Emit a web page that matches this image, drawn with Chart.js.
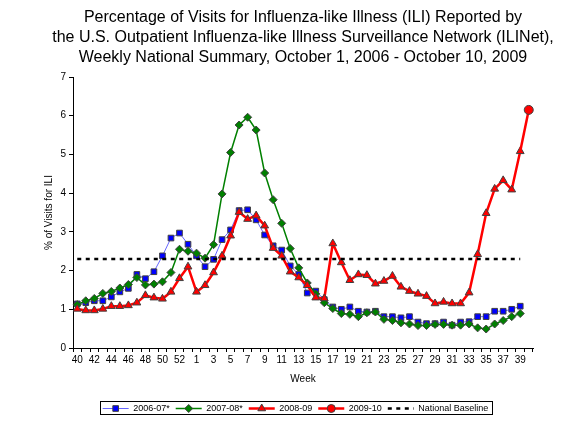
<!DOCTYPE html>
<html>
<head>
<meta charset="utf-8">
<title>ILINet weekly national summary</title>
<script src="https://cdn.jsdelivr.net/npm/chart.js@4/dist/chart.umd.min.js"></script>
<style>
  html, body { margin: 0; padding: 0; background: #fff; }
  #wrap { width: 563px; height: 423px; }
</style>
</head>
<body>
<div id="wrap"><canvas id="ili-chart" width="563" height="423"></canvas></div>
<script>
// week numbers along the x axis (season runs week 40 .. week 40 next year)
var weeks = [40, 41, 42, 43, 44, 45, 46, 47, 48, 49, 50, 51, 52, 53,
  1, 2, 3, 4, 5, 6, 7, 8, 9, 10, 11, 12, 13, 14, 15, 16, 17, 18, 19, 20,
  21, 22, 23, 24, 25, 26, 27, 28, 29, 30, 31, 32, 33, 34, 35, 36, 37, 38, 39, 40];

var yTicks = [0, 1, 2, 3, 4, 5, 6, 7];

var season0607 = [1.14, 1.17, 1.22, 1.22, 1.32, 1.45, 1.54, 1.90, 1.79, 1.97, 2.38, 2.84, 2.97, 2.68,
  2.38, 2.10, 2.29, 2.80, 3.05, 3.55, 3.57, 3.31, 2.92, 2.64, 2.53, 2.12, 1.90, 1.42, 1.47, 1.25,
  1.06, 1.00, 1.06, 0.95, 0.93, 0.95, 0.81, 0.81, 0.78, 0.81, 0.67, 0.63, 0.63, 0.67, 0.59, 0.67,
  0.68, 0.81, 0.81, 0.95, 0.95, 1.00, 1.08, null];

var season0708 = [1.12, 1.22, 1.28, 1.41, 1.46, 1.55, 1.64, 1.82, 1.63, 1.65, 1.71, 1.95, 2.55, 2.50,
  2.45, 2.32, 2.67, 3.98, 5.05, 5.76, 5.96, 5.63, 4.52, 3.83, 3.22, 2.57, 2.07, 1.68, 1.40, 1.17,
  1.02, 0.89, 0.87, 0.81, 0.91, 0.93, 0.74, 0.71, 0.65, 0.62, 0.58, 0.58, 0.61, 0.61, 0.59, 0.59,
  0.62, 0.52, 0.49, 0.62, 0.71, 0.81, 0.89, null];

var season0809 = [1.01, 0.97, 0.97, 1.01, 1.08, 1.08, 1.10, 1.17, 1.36, 1.30, 1.27, 1.45, 1.80, 2.10,
  1.45, 1.62, 1.95, 2.38, 2.90, 3.51, 3.33, 3.42, 3.16, 2.58, 2.38, 1.97, 1.82, 1.62, 1.30, 1.28,
  2.70, 2.21, 1.75, 1.90, 1.88, 1.66, 1.73, 1.86, 1.58, 1.47, 1.40, 1.34, 1.15, 1.19, 1.15, 1.15,
  1.43, 2.42, 3.48, 4.11, 4.33, 4.09, 5.08, null];

// 2009-10 so far: joined on from the last 2008-09 week
var season0910 = [null, null, null, null, null, null, null, null, null, null, null, null, null, null,
  null, null, null, null, null, null, null, null, null, null, null, null, null, null, null, null,
  null, null, null, null, null, null, null, null, null, null, null, null, null, null, null, null,
  null, null, null, null, null, null, 5.08, 6.15];

var baseline = [2.3, 2.3, 2.3, 2.3, 2.3, 2.3, 2.3, 2.3, 2.3, 2.3, 2.3, 2.3, 2.3, 2.3,
  2.3, 2.3, 2.3, 2.3, 2.3, 2.3, 2.3, 2.3, 2.3, 2.3, 2.3, 2.3, 2.3, 2.3, 2.3, 2.3,
  2.3, 2.3, 2.3, 2.3, 2.3, 2.3, 2.3, 2.3, 2.3, 2.3, 2.3, 2.3, 2.3, 2.3, 2.3, 2.3,
  2.3, 2.3, 2.3, 2.3, 2.3, 2.3, 2.3, null];

var FONT = "'Liberation Sans', Arial, sans-serif";
var MARK_EDGE = '#404040';

// title centred over the plot, legend nudged right like the original
var recentre = {
  id: 'recentre',
  afterLayout: function(chart) {
    var a = chart.chartArea;
    var t = chart.titleBlock;
    if (t) { t.left = a.left - 45; t.right = a.right + 45; }
    var lg = chart.legend;
    if (lg) { lg.left += 10; lg.right += 10; }
  }
};

// excel style legend: a short line with the marker on it, framed
var legendMarks = {
  id: 'legendMarks',
  afterDraw: function(chart) {
    var lg = chart.legend;
    if (!lg || !lg.legendHitBoxes) return;
    var ctx = chart.ctx;
    var boxW = lg.options.labels.boxWidth;
    var minL = 1e9, maxR = -1e9, minT = 1e9, maxB = -1e9;
    lg.legendHitBoxes.forEach(function(b, i) {
      var ds = chart.data.datasets[lg.legendItems[i].datasetIndex];
      var y = b.top + b.height / 2;
      ctx.save();
      ctx.strokeStyle = ds.borderColor;
      ctx.lineWidth = ds.borderWidth;
      ctx.setLineDash(ds.borderDash || []);
      ctx.beginPath();
      ctx.moveTo(b.left, y);
      ctx.lineTo(b.left + boxW, y);
      ctx.stroke();
      ctx.restore();
      if (ds.legendMark) {
        ctx.save();
        ctx.fillStyle = ds.pointBackgroundColor;
        ctx.strokeStyle = MARK_EDGE;
        ctx.lineWidth = 1;
        Chart.helpers.drawPoint(ctx, {pointStyle: ds.pointStyle, radius: ds.legendMark, borderWidth: 1, rotation: 0}, b.left + boxW / 2, y);
        ctx.restore();
      }
      minL = Math.min(minL, b.left);
      maxR = Math.max(maxR, b.left + b.width);
      minT = Math.min(minT, b.top);
      maxB = Math.max(maxB, b.top + b.height);
    });
    ctx.save();
    ctx.strokeStyle = '#000';
    ctx.lineWidth = 1;
    ctx.strokeRect(Math.round(minL - 3) + 0.5, Math.round(minT - 3) + 0.5, Math.round(maxR - minL + 6), Math.round(maxB - minT + 4));
    ctx.restore();
  }
};

var ctx = document.getElementById('ili-chart').getContext('2d');

var iliChart = new Chart(ctx, {
  type: 'line',
  data: {
    labels: weeks,
    datasets: [
      {
        label: '2006-07*',
        data: season0607,
        borderColor: '#6666FF',
        borderWidth: 1,
        pointStyle: 'rect',
        pointRadius: 4,
        legendMark: 4,
        pointBackgroundColor: '#0000FF',
        pointBorderColor: MARK_EDGE,
        pointBorderWidth: 1,
        order: 4
      },
      {
        label: '2007-08*',
        data: season0708,
        borderColor: '#008000',
        borderWidth: 1.5,
        pointStyle: 'rectRot',
        pointRadius: 4,
        legendMark: 4,
        pointBackgroundColor: '#008000',
        pointBorderColor: MARK_EDGE,
        pointBorderWidth: 1,
        order: 3
      },
      {
        label: '2008-09',
        data: season0809,
        borderColor: '#FF0000',
        borderWidth: 2.5,
        pointStyle: 'triangle',
        pointRadius: 4.5,
        legendMark: 4.5,
        pointBackgroundColor: '#FF0000',
        pointBorderColor: MARK_EDGE,
        pointBorderWidth: 1,
        order: 2
      },
      {
        label: '2009-10',
        data: season0910,
        borderColor: '#FF0000',
        borderWidth: 2.5,
        pointStyle: 'circle',
        pointRadius: function(c) { return c.dataIndex === weeks.length - 1 ? 4.5 : 0; },
        legendMark: 4,
        pointBackgroundColor: '#FF0000',
        pointBorderColor: MARK_EDGE,
        pointBorderWidth: 1,
        order: 1
      },
      {
        label: 'National Baseline',
        data: baseline,
        borderColor: '#000',
        borderWidth: 2.5,
        borderDash: [4, 4.5],
        pointRadius: 0,
        order: 0
      }
    ]
  },
  options: {
    responsive: false,
    animation: false,
    events: [],
    layout: { padding: { left: 38, right: 30, top: 0, bottom: 0 } },
    elements: { line: { tension: 0, fill: false } },
    scales: {
      x: {
        type: 'category',
        offset: true,
        grid: { offset: true, drawOnChartArea: false, tickLength: 4, color: '#000' },
        border: { color: '#000' },
        ticks: {
          autoSkip: false, maxRotation: 0, minRotation: 0, padding: 2,
          color: '#000', font: { family: FONT, size: 10 },
          callback: function(v, i) { return i % 2 === 0 ? String(weeks[i]) : ''; }
        },
        title: { display: true, text: 'Week', color: '#000', font: { family: FONT, size: 10 }, padding: { top: 4, bottom: 13 } },
        afterFit: function(s) { s.height = 50; }
      },
      y: {
        min: 0, max: 7,
        afterBuildTicks: function(s) { s.ticks = yTicks.map(function(v) { return { value: v }; }); },
        grid: { drawOnChartArea: false, tickLength: 4, color: '#000' },
        border: { color: '#000' },
        ticks: { color: '#000', padding: 3, font: { family: FONT, size: 10 } },
        title: { display: true, text: '% of Visits for ILI', color: '#000', font: { family: FONT, size: 10 }, padding: { top: 5, bottom: 0 } },
        afterFit: function(s) { s.width = 35; }
      }
    },
    plugins: {
      title: {
        display: true,
        text: ['Percentage of Visits for Influenza-like Illness (ILI) Reported by',
               'the U.S. Outpatient Influenza-like Illness Surveillance Network (ILINet),',
               'Weekly National Summary, October 1, 2006 - October 10, 2009'],
        color: '#000',
        font: { family: FONT, size: 16, weight: 'normal', lineHeight: 1.25 },
        padding: { top: 8, bottom: 9 }
      },
      legend: {
        position: 'bottom',
        labels: {
          boxWidth: 26, boxHeight: 9, padding: 6, color: '#000',
          font: { family: FONT, size: 9 },
          generateLabels: function(chart) {
            return chart.data.datasets.map(function(ds, i) {
              return { text: ds.label, fillStyle: 'rgba(0,0,0,0)', strokeStyle: 'rgba(0,0,0,0)', lineWidth: 0, hidden: false, datasetIndex: i };
            });
          }
        }
      },
      tooltip: { enabled: false }
    }
  },
  plugins: [recentre, legendMarks]
});
</script>
</body>
</html>
